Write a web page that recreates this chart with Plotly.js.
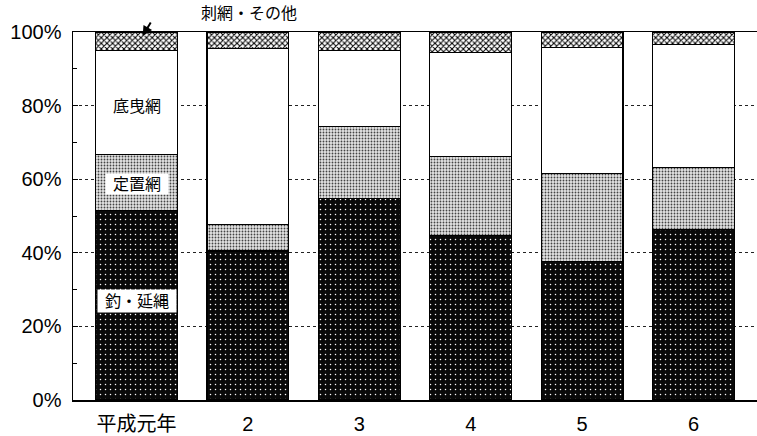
<!DOCTYPE html>
<html>
<head>
<meta charset="utf-8">
<script src="https://cdn.plot.ly/plotly-3.0.1.min.js"></script>
<style>html,body{margin:0;padding:0;background:#fff;}#chart{width:757px;height:436px;}</style>
</head>
<body>
<div id="chart"></div>
<script>
const years = ['平成元年', '2', '3', '4', '5', '6'];
const tsuri = [51.4, 40.5, 54.8, 44.6, 37.6, 46.4];      // 釣・延縄
const teichi = [15.4, 7.1, 19.5, 21.5, 24.0, 16.8];      // 定置網
const sokobiki = [28.1, 48.0, 20.6, 28.4, 34.1, 33.4];   // 底曳網
const sashiami = [5.1, 4.4, 5.1, 5.5, 4.3, 3.4];         // 刺網・その他
const yTicks = [0, 20, 40, 60, 80, 100];

const FONT = '"Liberation Sans", Arial, "Noto Sans CJK JP", sans-serif';
const line = {color: '#000', width: 1.2};

const traces = [
  {name: '釣・延縄', y: tsuri,
   marker: {line: line, pattern: {shape: '.', fillmode: 'replace', bgcolor: '#0a0a0a', fgcolor: '#fff', size: 5, solidity: 0.07}}},
  {name: '定置網', y: teichi,
   marker: {line: line, pattern: {shape: '.', fillmode: 'replace', bgcolor: '#e4e4e4', fgcolor: '#444', size: 3, solidity: 0.3}}},
  {name: '底曳網', y: sokobiki,
   marker: {color: '#fff', line: line}},
  {name: '刺網・その他', y: sashiami,
   marker: {line: line, pattern: {shape: 'x', fillmode: 'replace', bgcolor: '#fff', fgcolor: '#000', size: 4, solidity: 0.45}}}
].map(t => Object.assign({type: 'bar', x: years, hoverinfo: 'skip'}, t));

const layout = {
  width: 757, height: 436,
  margin: {l: 73, r: 0, t: 32, b: 36},
  paper_bgcolor: '#fff', plot_bgcolor: '#fff',
  barmode: 'stack', bargap: 0.265,
  showlegend: false,
  font: {family: FONT, color: '#000'},
  xaxis: {
    type: 'category', range: [-0.57, 5.57],
    showline: true, linecolor: '#000', linewidth: 1.5, mirror: true,
    ticks: '', showgrid: false,
    tickfont: {size: 20, family: FONT},
    ticklabelstandoff: 5
  },
  yaxis: {
    range: [0, 100], tickvals: yTicks, ticktext: yTicks.map(v => v + '%'),
    showline: true, linecolor: '#000', linewidth: 1.5,
    ticks: 'inside', ticklen: 5, tickcolor: '#000',
    showgrid: true, gridcolor: '#222', griddash: 'dot', gridwidth: 1,
    zeroline: false,
    minor: {dtick: 10, ticks: 'inside', ticklen: 4, tickcolor: '#000', showgrid: false},
    tickfont: {size: 20, family: FONT},
    ticklabelstandoff: 6
  },
  annotations: [
    {xref: 'x', yref: 'y', x: 0, y: 79.9, text: '底曳網', showarrow: false,
     font: {size: 16}, bgcolor: '#fff', width: 54, height: 18},
    {xref: 'x', yref: 'y', x: 0, y: 58.7, text: '定置網', showarrow: false,
     font: {size: 16}, bgcolor: '#fff', width: 60, height: 18},
    {xref: 'x', yref: 'y', x: 0, y: 26.9, text: '釣・延縄', showarrow: false,
     font: {size: 16}, bgcolor: '#fff', width: 76, height: 20},
    {xref: 'paper', yref: 'paper', x: (199 - 73) / 684, y: 1, yanchor: 'middle', yshift: 19,
     text: '刺網・その他', showarrow: false, font: {size: 16}},
    {xref: 'x', yref: 'y', x: 0.055, y: 98.9, text: '', showarrow: true,
     ax: 9, ay: -15, arrowhead: 2, arrowsize: 1, arrowwidth: 2, arrowcolor: '#000'}
  ]
};

Plotly.newPlot('chart', traces, layout, {staticPlot: true, displayModeBar: false});
</script>
</body>
</html>
